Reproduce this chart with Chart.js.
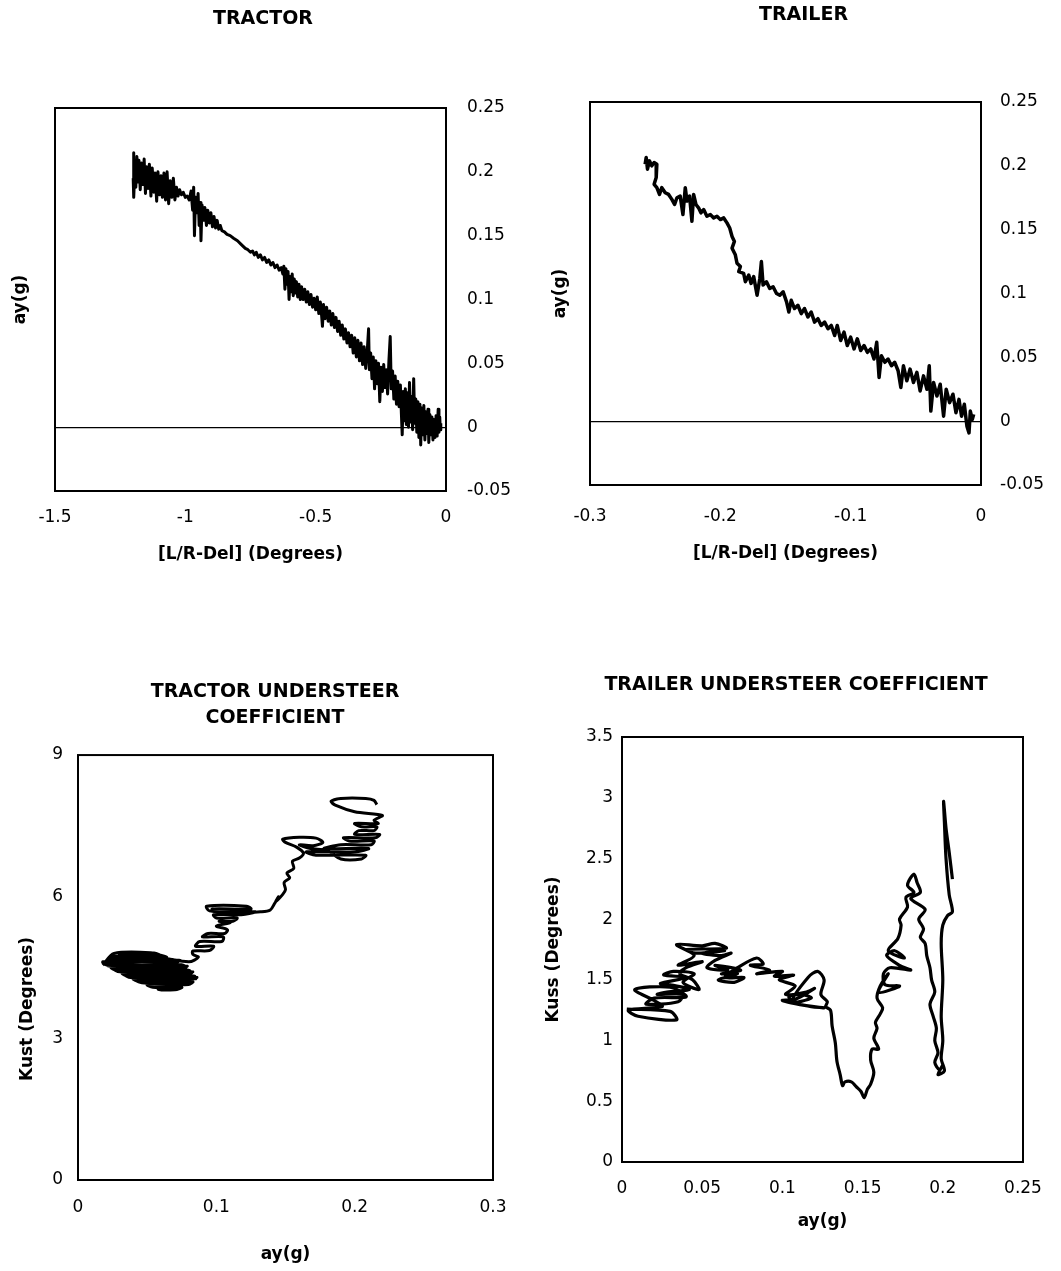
<!DOCTYPE html>
<html>
<head>
<meta charset="utf-8">
<title>Tractor / Trailer Understeer</title>
<script src="https://cdn.jsdelivr.net/npm/chart.js@4.4.1/dist/chart.umd.min.js"></script>
<style>
    body { margin: 0; background: #fff; }
    .panel { position: absolute; }
</style>
</head>
<body>
<div class="panel" style="left:0px;top:0px"><canvas id="tractorChart" width="530" height="580"></canvas></div>
<div class="panel" style="left:530px;top:0px"><canvas id="trailerChart" width="531" height="580"></canvas></div>
<div class="panel" style="left:0px;top:640px"><canvas id="tractorKChart" width="537" height="631"></canvas></div>
<div class="panel" style="left:530px;top:640px"><canvas id="trailerKChart" width="531" height="631"></canvas></div>
<script>
// Tick labels
const steerTicksTractor = [-1.5, -1, -0.5, 0];
const steerTicksTrailer = [-0.3, -0.2, -0.1, 0];
const ayTicks = [-0.05, 0, 0.05, 0.1, 0.15, 0.2, 0.25];
const kustTicks = [0, 3, 6, 9];
const kustAyTicks = [0, 0.1, 0.2, 0.3];
const kussTicks = [0, 0.5, 1, 1.5, 2, 2.5, 3, 3.5];
const kussAyTicks = [0, 0.05, 0.1, 0.15, 0.2, 0.25];

// Tractor: [L/R-Del] (deg), ay (g)
const tractorPoints = [
    [-1.200,0.195],[-1.199,0.215],[-1.197,0.180],[-1.193,0.205],[-1.190,0.188],[-1.186,0.212],[-1.182,0.192],[-1.178,0.209],
    [-1.173,0.186],[-1.168,0.207],[-1.163,0.190],[-1.158,0.210],[-1.153,0.183],[-1.148,0.204],[-1.143,0.187],[-1.138,0.206],
    [-1.132,0.181],[-1.127,0.203],[-1.121,0.184],[-1.116,0.199],[-1.110,0.177],[-1.105,0.200],[-1.099,0.182],[-1.093,0.197],
    [-1.088,0.180],[-1.082,0.199],[-1.076,0.178],[-1.070,0.200],[-1.064,0.175],[-1.058,0.193],[-1.052,0.180],[-1.046,0.195],
    [-1.040,0.178],[-1.034,0.188],[-1.028,0.181],[-1.022,0.186],[-1.015,0.182],[-1.008,0.184],[-1.000,0.180],[-0.993,0.181],
    [-0.985,0.178],[-0.978,0.185],[-0.972,0.170],[-0.968,0.188],[-0.965,0.150],[-0.961,0.180],[-0.956,0.168],[-0.951,0.183],
    [-0.947,0.158],[-0.943,0.176],[-0.940,0.146],[-0.936,0.174],[-0.930,0.162],[-0.925,0.172],[-0.919,0.158],[-0.914,0.170],
    [-0.908,0.160],[-0.902,0.168],[-0.896,0.157],[-0.890,0.165],[-0.884,0.156],[-0.878,0.162],[-0.872,0.155],[-0.866,0.158],
    [-0.860,0.154],[-0.850,0.153],[-0.840,0.151],[-0.828,0.150],[-0.815,0.148],[-0.800,0.146],[-0.785,0.143],[-0.770,0.140],
    [-0.760,0.139],[-0.750,0.137],[-0.742,0.138],[-0.735,0.135],[-0.728,0.137],[-0.720,0.133],[-0.712,0.135],[-0.704,0.131],
    [-0.696,0.133],[-0.688,0.129],[-0.680,0.131],[-0.672,0.127],[-0.664,0.129],[-0.656,0.125],[-0.648,0.127],[-0.640,0.123],
    [-0.632,0.125],[-0.626,0.120],[-0.622,0.126],[-0.618,0.108],[-0.614,0.124],[-0.610,0.112],[-0.606,0.122],[-0.602,0.100],
    [-0.598,0.118],[-0.594,0.106],[-0.590,0.120],[-0.586,0.103],[-0.582,0.116],[-0.578,0.105],[-0.574,0.114],[-0.569,0.102],
    [-0.564,0.112],[-0.559,0.100],[-0.554,0.110],[-0.548,0.100],[-0.542,0.108],[-0.536,0.098],[-0.530,0.106],[-0.524,0.096],
    [-0.518,0.104],[-0.512,0.094],[-0.506,0.101],[-0.500,0.092],[-0.494,0.102],[-0.488,0.089],[-0.482,0.098],[-0.477,0.087],
    [-0.474,0.079],[-0.470,0.096],[-0.464,0.085],[-0.458,0.094],[-0.452,0.083],[-0.446,0.091],[-0.440,0.080],[-0.434,0.089],
    [-0.428,0.078],[-0.422,0.086],[-0.416,0.075],[-0.410,0.083],[-0.404,0.072],[-0.398,0.080],[-0.392,0.069],[-0.386,0.077],
    [-0.380,0.066],[-0.374,0.074],[-0.368,0.063],[-0.362,0.072],[-0.356,0.058],[-0.350,0.070],[-0.344,0.055],[-0.338,0.068],
    [-0.332,0.052],[-0.326,0.066],[-0.320,0.049],[-0.314,0.063],[-0.308,0.046],[-0.302,0.060],[-0.297,0.077],[-0.294,0.045],
    [-0.289,0.058],[-0.284,0.038],[-0.279,0.055],[-0.274,0.030],[-0.269,0.052],[-0.264,0.034],[-0.259,0.050],[-0.254,0.020],
    [-0.249,0.047],[-0.244,0.028],[-0.239,0.049],[-0.234,0.031],[-0.229,0.045],[-0.224,0.026],[-0.219,0.052],[-0.214,0.071],
    [-0.210,0.030],[-0.205,0.044],[-0.200,0.022],[-0.195,0.040],[-0.190,0.018],[-0.185,0.036],[-0.180,0.016],[-0.175,0.033],
    [-0.171,0.010],[-0.168,-0.006],[-0.164,0.028],[-0.160,0.005],[-0.156,0.030],[-0.152,0.002],[-0.148,0.027],[-0.144,0.000],
    [-0.140,0.035],[-0.136,0.004],[-0.132,0.024],[-0.128,-0.002],[-0.124,0.038],[-0.120,0.003],[-0.116,0.022],[-0.112,-0.004],
    [-0.108,0.020],[-0.104,-0.008],[-0.100,0.018],[-0.097,-0.014],[-0.093,0.015],[-0.089,-0.006],[-0.085,0.017],[-0.081,-0.010],
    [-0.077,0.012],[-0.073,-0.005],[-0.069,0.014],[-0.066,-0.012],[-0.062,0.010],[-0.058,-0.006],[-0.054,0.008],[-0.050,-0.010],
    [-0.046,0.006],[-0.042,-0.008],[-0.038,0.009],[-0.034,-0.007],[-0.030,0.014],[-0.027,-0.004],[-0.024,0.008],[-0.022,-0.002],
    [-0.020,0.003]
];

// Trailer: [L/R-Del] (deg), ay (g)
const trailerPoints = [
    [-0.2577,0.2013],[-0.2569,0.2066],[-0.2559,0.1974],[-0.2544,0.2039],[-0.2526,0.2000],[-0.2508,0.2026],[-0.2487,0.2013],
    [-0.2492,0.1908],[-0.2508,0.1855],[-0.2487,0.1829],[-0.2467,0.1776],[-0.2449,0.1829],[-0.2423,0.1789],[-0.2397,0.1776],
    [-0.2372,0.1737],[-0.2351,0.1697],[-0.2333,0.1750],[-0.2308,0.1763],[-0.2287,0.1618],[-0.2269,0.1829],[-0.2256,0.1724],
    [-0.2236,0.1763],[-0.2218,0.1566],[-0.2205,0.1776],[-0.2187,0.1697],[-0.2167,0.1671],[-0.2149,0.1632],[-0.2128,0.1658],
    [-0.2103,0.1605],[-0.2077,0.1618],[-0.2051,0.1592],[-0.2026,0.1605],[-0.2000,0.1579],[-0.1974,0.1592],[-0.1949,0.1553],
    [-0.1928,0.1513],[-0.1910,0.1447],[-0.1892,0.1408],[-0.1910,0.1355],[-0.1885,0.1303],[-0.1872,0.1237],[-0.1846,0.1211],
    [-0.1859,0.1171],[-0.1821,0.1158],[-0.1808,0.1092],[-0.1782,0.1145],[-0.1764,0.1079],[-0.1744,0.1132],[-0.1718,0.0987],
    [-0.1697,0.1118],[-0.1685,0.1250],[-0.1672,0.1066],[-0.1646,0.1092],[-0.1621,0.1039],[-0.1595,0.1053],[-0.1569,0.1000],
    [-0.1544,0.0987],[-0.1518,0.1013],[-0.1492,0.0934],[-0.1474,0.0855],[-0.1456,0.0947],[-0.1431,0.0882],[-0.1405,0.0908],
    [-0.1379,0.0842],[-0.1354,0.0882],[-0.1328,0.0816],[-0.1303,0.0855],[-0.1277,0.0776],[-0.1251,0.0803],[-0.1226,0.0750],
    [-0.1200,0.0776],[-0.1174,0.0724],[-0.1149,0.0750],[-0.1123,0.0671],[-0.1103,0.0750],[-0.1077,0.0632],[-0.1051,0.0697],
    [-0.1026,0.0592],[-0.1000,0.0658],[-0.0974,0.0566],[-0.0949,0.0645],[-0.0923,0.0553],[-0.0897,0.0592],[-0.0872,0.0539],
    [-0.0846,0.0566],[-0.0821,0.0487],[-0.0800,0.0618],[-0.0782,0.0342],[-0.0764,0.0513],[-0.0738,0.0461],[-0.0713,0.0487],
    [-0.0687,0.0434],[-0.0662,0.0461],[-0.0636,0.0395],[-0.0615,0.0263],[-0.0595,0.0434],[-0.0569,0.0316],[-0.0544,0.0408],
    [-0.0518,0.0303],[-0.0492,0.0382],[-0.0467,0.0237],[-0.0441,0.0355],[-0.0415,0.0250],[-0.0397,0.0434],[-0.0385,0.0079],
    [-0.0364,0.0303],[-0.0338,0.0197],[-0.0313,0.0289],[-0.0287,0.0039],[-0.0267,0.0250],[-0.0241,0.0145],[-0.0215,0.0211],
    [-0.0192,0.0066],[-0.0169,0.0171],[-0.0149,0.0039],[-0.0128,0.0132],[-0.0108,-0.0039],[-0.0092,-0.0092],[-0.0082,0.0079],
    [-0.0067,0.0013],[-0.0056,0.0053]
];

// Tractor understeer coefficient: ay (g), Kust (deg)
const tractorKPoints = [
    [0.018,4.55],[0.026,4.80],[0.055,4.81],[0.060,4.74],[0.024,4.74],[0.022,4.68],[0.066,4.68],[0.072,4.62],[0.018,4.62],
    [0.020,4.56],[0.075,4.56],[0.078,4.50],[0.024,4.50],[0.028,4.44],[0.080,4.44],[0.082,4.38],[0.032,4.38],[0.036,4.32],
    [0.084,4.32],[0.085,4.26],[0.040,4.26],[0.045,4.20],[0.083,4.20],[0.080,4.14],[0.050,4.14],[0.054,4.08],[0.075,4.08],
    [0.070,4.03],[0.058,4.04],[0.062,4.11],[0.082,4.17],[0.048,4.17],[0.042,4.23],[0.086,4.29],[0.038,4.29],[0.034,4.35],
    [0.083,4.41],[0.030,4.41],[0.026,4.47],[0.079,4.53],[0.022,4.53],[0.020,4.59],[0.074,4.65],[0.024,4.65],[0.025,4.71],
    [0.064,4.71],[0.058,4.77],[0.030,4.77],[0.034,4.82],[0.080,4.62],[0.087,4.72],[0.083,4.78],[0.083,4.85],[0.095,4.86],
    [0.098,4.95],[0.085,4.95],[0.088,5.05],[0.104,5.05],[0.105,5.15],[0.090,5.15],[0.094,5.22],[0.106,5.22],[0.108,5.30],
    [0.100,5.38],[0.110,5.45],[0.102,5.48],[0.112,5.48],[0.115,5.55],[0.100,5.55],[0.098,5.62],[0.118,5.62],[0.128,5.68],
    [0.100,5.68],[0.097,5.74],[0.125,5.74],[0.122,5.80],[0.093,5.80],[0.095,5.70],[0.118,5.66],[0.132,5.68],[0.139,5.72],
    [0.142,5.85],[0.145,6.00],[0.143,5.90],[0.148,6.05],[0.150,6.15],[0.149,6.30],[0.153,6.40],[0.151,6.50],[0.156,6.60],
    [0.155,6.75],[0.160,6.82],[0.163,6.92],[0.158,7.05],[0.150,7.15],[0.148,7.22],[0.160,7.26],[0.172,7.24],[0.177,7.15],
    [0.170,7.08],[0.160,7.10],[0.168,7.02],[0.180,6.98],[0.190,6.80],[0.205,6.80],[0.208,6.88],[0.172,6.88],[0.165,6.95],
    [0.200,6.95],[0.210,7.02],[0.178,7.02],[0.190,7.10],[0.212,7.10],[0.214,7.18],[0.196,7.18],[0.192,7.25],[0.215,7.25],
    [0.218,7.32],[0.200,7.32],[0.203,7.40],[0.214,7.40],[0.216,7.48],[0.205,7.48],[0.200,7.55],[0.217,7.55],[0.214,7.62],
    [0.220,7.72],[0.200,7.80],[0.186,7.94],[0.183,8.02],[0.190,8.08],[0.208,8.08],[0.214,8.04],[0.216,7.95]
];

// Trailer understeer coefficient: ay (g), Kuss (deg)
const trailerKPoints = [
    [0.003,1.26],[0.030,1.24],[0.034,1.17],[0.010,1.20],[0.004,1.25],[0.025,1.28],[0.020,1.33],[0.008,1.42],[0.030,1.44],
    [0.040,1.36],[0.020,1.35],[0.015,1.30],[0.035,1.32],[0.038,1.38],[0.022,1.38],[0.028,1.40],[0.042,1.42],[0.030,1.46],
    [0.024,1.47],[0.040,1.52],[0.026,1.54],[0.032,1.57],[0.045,1.55],[0.038,1.48],[0.048,1.42],[0.044,1.50],[0.036,1.55],
    [0.040,1.60],[0.050,1.65],[0.035,1.62],[0.045,1.70],[0.034,1.79],[0.050,1.78],[0.058,1.80],[0.065,1.76],[0.040,1.75],
    [0.046,1.72],[0.064,1.74],[0.050,1.72],[0.062,1.70],[0.068,1.72],[0.058,1.66],[0.053,1.60],[0.066,1.58],[0.058,1.62],
    [0.074,1.58],[0.062,1.55],[0.072,1.55],[0.060,1.50],[0.070,1.48],[0.076,1.52],[0.064,1.52],[0.072,1.60],[0.084,1.68],
    [0.088,1.63],[0.080,1.62],[0.092,1.58],[0.084,1.55],[0.100,1.57],[0.095,1.53],[0.107,1.54],[0.098,1.50],[0.108,1.45],
    [0.102,1.38],[0.115,1.40],[0.120,1.43],[0.108,1.34],[0.100,1.33],[0.118,1.28],[0.126,1.27],[0.110,1.30],[0.104,1.36],
    [0.112,1.38],[0.118,1.35],[0.106,1.32],[0.116,1.52],[0.122,1.57],[0.126,1.50],[0.124,1.38],[0.128,1.32],[0.127,1.28],
    [0.130,1.25],[0.131,1.12],[0.133,0.98],[0.134,0.83],[0.136,0.72],[0.1375,0.63],[0.139,0.66],[0.143,0.66],[0.146,0.62],
    [0.149,0.58],[0.151,0.53],[0.153,0.60],[0.155,0.64],[0.157,0.74],[0.155,0.84],[0.156,0.93],[0.160,0.93],[0.157,1.02],
    [0.159,1.10],[0.158,1.15],[0.161,1.22],[0.1625,1.27],[0.159,1.35],[0.161,1.45],[0.166,1.55],[0.160,1.40],[0.170,1.43],
    [0.173,1.45],[0.164,1.46],[0.163,1.55],[0.167,1.60],[0.180,1.58],[0.173,1.62],[0.165,1.70],[0.170,1.74],[0.176,1.68],
    [0.166,1.74],[0.172,1.84],[0.174,1.95],[0.173,2.00],[0.178,2.10],[0.177,2.18],[0.182,2.22],[0.178,2.28],[0.182,2.37],
    [0.184,2.30],[0.186,2.22],[0.180,2.17],[0.189,2.08],[0.185,2.00],[0.188,1.92],[0.186,1.85],[0.189,1.80],[0.190,1.70],
    [0.192,1.60],[0.193,1.50],[0.195,1.40],[0.192,1.30],[0.194,1.20],[0.196,1.10],[0.195,1.00],[0.197,0.90],[0.195,0.82],
    [0.198,0.76],[0.200,0.80],[0.197,0.72],[0.201,0.75],[0.199,0.85],[0.200,1.00],[0.199,1.20],[0.200,1.50],[0.199,1.80],
    [0.200,1.95],[0.203,2.03],[0.206,2.06],[0.204,2.20],[0.202,2.50],[0.201,2.80],[0.2005,2.97],[0.202,2.75],[0.204,2.55],
    [0.206,2.33]
];

Chart.defaults.font.family = '"DejaVu Sans", sans-serif';
Chart.defaults.color = '#000';

// Black frame round the plot area
const frameBox = {
    id: 'frameBox',
    afterDatasetsDraw(chart) {
        const { ctx, chartArea: a } = chart;
        ctx.save();
        ctx.strokeStyle = '#000';
        ctx.lineWidth = 2;
        ctx.strokeRect(a.left, a.top, a.right - a.left, a.bottom - a.top);
        ctx.restore();
    }
};

const tickFont = { size: 17 };
const axisTitleFont = { size: 17, weight: 'bold' };

function useTicks(list) {
    return scale => { scale.ticks = list.map(v => ({ value: v })); };
}

// Build one panel; g holds the layout sizes of that panel
function makePanel(id, points, opt, g) {
    const leftTicks = opt.tickSide === 'left';
    const yRange = { min: opt.yTicks[0], max: opt.yTicks[opt.yTicks.length - 1] };

    new Chart(document.getElementById(id), {
        type: 'scatter',
        data: {
            datasets: [{
                data: points.map(p => ({ x: p[0], y: p[1] })),
                showLine: true,
                borderColor: '#000',
                borderWidth: opt.lineWidth,
                borderJoinStyle: 'round',
                pointRadius: 0,
                tension: opt.tension || 0,
                yAxisID: 'y'
            }]
        },
        options: {
            responsive: false,
            animation: false,
            layout: { padding: { left: g.padL, right: g.padR, top: 0, bottom: g.padB } },
            plugins: {
                legend: { display: false },
                tooltip: { enabled: false },
                title: {
                    display: true,
                    text: opt.title,
                    color: '#000',
                    font: { size: 19, weight: 'bold', lineHeight: g.titleLH || 1.2 },
                    padding: { top: g.titleTop, bottom: g.titleBottom }
                }
            },
            scales: {
                x: {
                    type: 'linear',
                    position: 'bottom',
                    min: opt.xTicks[0],
                    max: opt.xTicks[opt.xTicks.length - 1],
                    afterBuildTicks: useTicks(opt.xTicks),
                    afterFit: s => { s.height = g.bottomH; },
                    grid: { display: false, drawTicks: false },
                    border: { display: false },
                    ticks: { font: tickFont, color: '#000', padding: g.xPad, maxRotation: 0, autoSkip: false, callback: v => String(v) },
                    title: { display: true, text: opt.xTitle, font: axisTitleFont, color: '#000' }
                },
                y: {
                    type: 'linear',
                    position: 'left',
                    ...yRange,
                    afterBuildTicks: useTicks(opt.yTicks),
                    afterFit: s => { s.width = g.leftW; },
                    grid: {
                        display: !!opt.zeroLine,
                        drawTicks: false,
                        lineWidth: 1.2,
                        color: c => (c.tick && c.tick.value === 0) ? '#000' : 'rgba(0,0,0,0)'
                    },
                    border: { display: false },
                    ticks: { display: leftTicks, font: tickFont, color: '#000', padding: g.yPad, callback: v => String(v) },
                    title: { display: true, text: opt.yTitle, font: axisTitleFont, color: '#000' }
                },
                yRight: {
                    type: 'linear',
                    position: 'right',
                    ...yRange,
                    afterBuildTicks: useTicks(opt.yTicks),
                    afterFit: s => { s.width = g.rightW; },
                    grid: { display: false, drawTicks: false },
                    border: { display: false },
                    ticks: { display: !leftTicks, font: tickFont, color: '#000', padding: g.yPad, callback: v => String(v) }
                }
            }
        },
        plugins: [frameBox]
    });
}

makePanel('tractorChart', tractorPoints, {
    title: 'TRACTOR', xTitle: '[L/R-Del] (Degrees)', yTitle: 'ay(g)',
    xTicks: steerTicksTractor, yTicks: ayTicks, tickSide: 'right', zeroLine: true, lineWidth: 3
}, { padL: 6, padR: 10, padB: 11, leftW: 49, rightW: 74, bottomH: 78, titleTop: 7.6, titleBottom: 77.6, xPad: 16, yPad: 21 });

makePanel('trailerChart', trailerPoints, {
    title: 'TRAILER', xTitle: '[L/R-Del] (Degrees)', yTitle: 'ay(g)',
    xTicks: steerTicksTrailer, yTicks: ayTicks, tickSide: 'right', zeroLine: true, lineWidth: 3.5
}, { padL: 16, padR: 0, padB: 12, leftW: 44, rightW: 80, bottomH: 83, titleTop: 4.1, titleBottom: 75.1, xPad: 21, yPad: 19 });

makePanel('tractorKChart', tractorKPoints, {
    title: ['TRACTOR UNDERSTEER', 'COEFFICIENT'], xTitle: 'ay(g)', yTitle: 'Kust (Degrees)'.padEnd(28, ' '),
    xTicks: kustAyTicks, yTicks: kustTicks, tickSide: 'left', lineWidth: 3, tension: 0.3
}, { padL: 13, padR: 0, padB: 2, leftW: 65, rightW: 44, bottomH: 89, titleLH: 1.37, titleTop: 39, titleBottom: 24, xPad: 17, yPad: 15 });

makePanel('trailerKChart', trailerKPoints, {
    title: 'TRAILER UNDERSTEER COEFFICIENT', xTitle: 'ay(g)', yTitle: 'Kuss (Degrees)',
    xTicks: kussAyTicks, yTicks: kussTicks, tickSide: 'left', lineWidth: 3.2, tension: 0.3
}, { padL: 9, padR: 8, padB: 35, leftW: 83, rightW: 30, bottomH: 74, titleTop: 33.6, titleBottom: 40.6, xPad: 16, yPad: 9 });
</script>
</body>
</html>
